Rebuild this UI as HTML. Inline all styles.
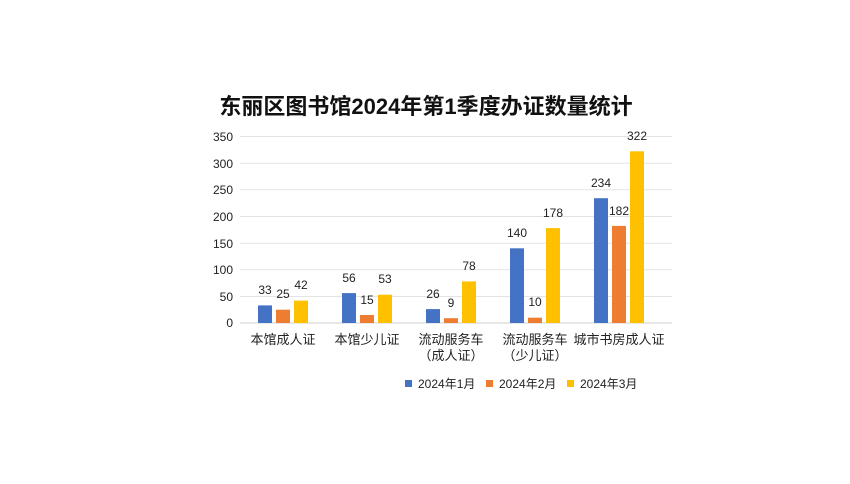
<!DOCTYPE html>
<html><head><meta charset="utf-8"><style>
html,body{margin:0;padding:0;background:#fff;}
svg text{font-family:"Liberation Sans","Noto Sans CJK SC",sans-serif;}
</style></head><body>
<svg width="850" height="479" xmlns="http://www.w3.org/2000/svg">
<rect width="850" height="479" fill="#fff"/>
<text x="426" y="114" text-anchor="middle" font-size="22" font-weight="bold" fill="#111">东丽区图书馆2024年第1季度办证数量统计</text>
<g stroke="#e3e3e3" stroke-width="1">
<line x1="240" x2="672" y1="136.5" y2="136.5"/>
<line x1="240" x2="672" y1="163.2" y2="163.2"/>
<line x1="240" x2="672" y1="189.8" y2="189.8"/>
<line x1="240" x2="672" y1="216.5" y2="216.5"/>
<line x1="240" x2="672" y1="243.2" y2="243.2"/>
<line x1="240" x2="672" y1="269.8" y2="269.8"/>
<line x1="240" x2="672" y1="296.5" y2="296.5"/>
</g>
<line x1="240" x2="672" y1="323" y2="323" stroke="#d0d0d0"/>
<g font-size="12" fill="#222" text-anchor="end">
<text x="233" y="141">350</text><text x="233" y="168">300</text><text x="233" y="194">250</text>
<text x="233" y="221">200</text><text x="233" y="248">150</text><text x="233" y="274">100</text>
<text x="233" y="301">50</text><text x="233" y="327">0</text>
</g>
<g font-size="12" fill="#222" text-anchor="middle">
<rect x="258" y="305.4" width="14" height="17.6" fill="#4472c4"/>
<rect x="276" y="309.7" width="14" height="13.3" fill="#ed7d31"/>
<rect x="294" y="300.6" width="14" height="22.4" fill="#ffc000"/>
<text x="265" y="294">33</text><text x="283" y="298">25</text><text x="301" y="289">42</text>
<rect x="342" y="293.1" width="14" height="29.9" fill="#4472c4"/>
<rect x="360" y="315" width="14" height="8" fill="#ed7d31"/>
<rect x="378" y="294.7" width="14" height="28.3" fill="#ffc000"/>
<text x="349" y="282">56</text><text x="367" y="304">15</text><text x="385" y="283">53</text>
<rect x="426" y="309.1" width="14" height="13.9" fill="#4472c4"/>
<rect x="444" y="318.2" width="14" height="4.8" fill="#ed7d31"/>
<rect x="462" y="281.4" width="14" height="41.6" fill="#ffc000"/>
<text x="433" y="298">26</text><text x="451" y="307">9</text><text x="469" y="270">78</text>
<rect x="510" y="248.3" width="14" height="74.7" fill="#4472c4"/>
<rect x="528" y="317.7" width="14" height="5.3" fill="#ed7d31"/>
<rect x="546" y="228.1" width="14" height="94.9" fill="#ffc000"/>
<text x="517" y="237">140</text><text x="535" y="306">10</text><text x="553" y="217">178</text>
<rect x="594" y="198.2" width="14" height="124.8" fill="#4472c4"/>
<rect x="612" y="225.9" width="14" height="97.1" fill="#ed7d31"/>
<rect x="630" y="151.3" width="14" height="171.7" fill="#ffc000"/>
<text x="601" y="187">234</text><text x="619" y="215">182</text><text x="637" y="140">322</text>
</g>
<g font-size="13" fill="#222" text-anchor="middle">
<text x="283" y="344">本馆成人证</text>
<text x="367" y="344">本馆少儿证</text>
<text x="451" y="344">流动服务车</text><text x="451" y="360">（成人证）</text>
<text x="535" y="344">流动服务车</text><text x="535" y="360">（少儿证）</text>
<text x="619" y="344">城市书房成人证</text>
</g>
<g font-size="12" fill="#222">
<rect x="405" y="380" width="7" height="7" fill="#4472c4"/><text x="418" y="388">2024年1月</text>
<rect x="486" y="380" width="7" height="7" fill="#ed7d31"/><text x="499" y="388">2024年2月</text>
<rect x="567" y="380" width="7" height="7" fill="#ffc000"/><text x="580" y="388">2024年3月</text>
</g>
</svg>
</body></html>
